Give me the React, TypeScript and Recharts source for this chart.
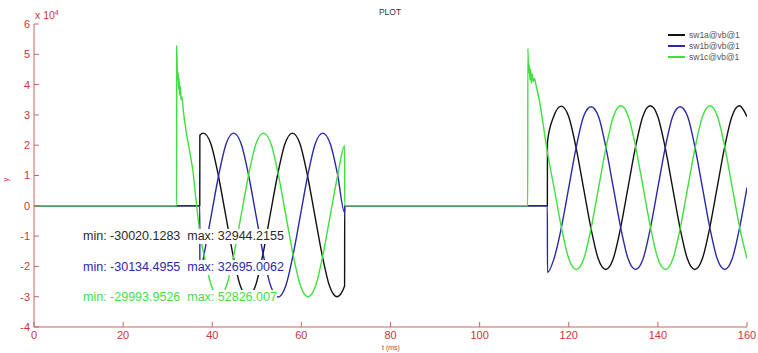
import React from "react";
import { LineChart, Line, XAxis, YAxis } from "recharts";

// [t (ms), value] pairs
const sw1a: [number, number][] = [
  [0, 0], [37.2, 0], [37.22, 23300], [38.0, 24000], [39.7, 20400], [41.3, 10500],
  [43.0, -3000], [44.7, -16500], [46.3, -26400], [48.0, -30000], [49.7, -26400],
  [51.3, -16500], [53.0, -3000], [54.7, 10500], [56.3, 20400], [58.0, 24000],
  [59.7, 20400], [61.3, 10500], [63.0, -3000], [64.7, -16500], [66.3, -26400],
  [68.0, -30000], [69.7, -26500], [69.72, 0], [115.2, 0], [115.22, 21200],
  [116.6, 29400], [118.3, 32900], [120.0, 29400], [121.6, 19500], [123.3, 6000],
  [125.0, -7500], [126.6, -17400], [128.3, -21000], [130.0, -17400], [131.6, -7500],
  [133.3, 6000], [135.0, 19500], [136.6, 29400], [138.3, 33000], [140.0, 29400],
  [141.6, 19500], [143.3, 6000], [145.0, -7500], [146.6, -17400], [148.3, -21000],
  [150.0, -17400], [151.6, -7500], [153.3, 6000], [155.0, 19500], [156.6, 29400],
  [158.3, 33000], [160.0, 29400],
];

const sw1b: [number, number][] = [
  [0, 0], [37.2, 0], [37.22, -22700], [38.1, -16500], [39.8, -3000], [41.5, 10500],
  [43.1, 20400], [44.8, 24000], [46.5, 20400], [48.1, 10500], [49.8, -3000],
  [51.5, -16500], [53.1, -26400], [54.8, -30100], [56.5, -26400], [58.1, -16500],
  [59.8, -3000], [61.5, 10500], [63.1, 20400], [64.8, 24000], [66.5, 20400],
  [68.1, 10500], [69.7, -2200], [69.72, 0], [115.2, 0], [115.22, -22000],
  [116.7, -17400], [118.3, -7500], [120.0, 6000], [121.7, 19500], [123.3, 29400],
  [125.0, 32700], [126.7, 29400], [128.3, 19500], [130.0, 6000], [131.7, -7500],
  [133.3, -17400], [135.0, -21000], [136.7, -17400], [138.3, -7500], [140.0, 6000],
  [141.7, 19500], [143.3, 29400], [145.0, 32700], [146.7, 29400], [148.3, 19500],
  [150.0, 6000], [151.7, -7500], [153.3, -17400], [155.0, -21000], [156.7, -17400],
  [158.3, -7500], [160.0, 6000],
];

const sw1c: [number, number][] = [
  [0, 0], [32.0, 0], [32.02, 52800], [32.15, 45000], [32.25, 41500], [32.35, 44000],
  [32.45, 38500], [32.55, 42000], [32.7, 36500], [32.85, 39500], [33.0, 35000],
  [33.2, 36000], [33.5, 31500], [34.2, 24000], [35.0, 17500], [35.7, 11000],
  [36.2, 4000], [36.7, -2500], [37.2, -8900], [38.2, -16500], [39.8, -26400],
  [41.5, -30000], [43.2, -26400], [44.8, -16500], [46.5, -3000], [48.2, 10500],
  [49.8, 20400], [51.5, 24000], [53.2, 20400], [54.8, 10500], [56.5, -3000],
  [58.2, -16500], [59.8, -26400], [61.5, -30000], [63.2, -26400], [64.8, -16500],
  [66.5, -3000], [68.2, 10500], [69.7, 19800], [69.72, 0], [110.8, 0],
  [110.82, 52000], [111.0, 44000], [111.15, 46500], [111.3, 41500], [111.45, 45000],
  [111.6, 40500], [111.8, 43500], [112.0, 41000], [112.3, 42000], [112.7, 39500],
  [113.5, 34000], [114.2, 27500], [115.0, 19500], [116.7, 6000], [118.4, -7500],
  [120.0, -17400], [121.7, -21000], [123.4, -17400], [125.0, -7500], [126.7, 6000],
  [128.4, 19500], [130.0, 29400], [131.7, 33000], [133.4, 29400], [135.0, 19500],
  [136.7, 6000], [138.4, -7500], [140.0, -17400], [141.7, -21000], [143.4, -17400],
  [145.0, -7500], [146.7, 6000], [148.4, 19500], [150.0, 29400], [151.7, 33000],
  [153.4, 29400], [155.0, 19500], [156.7, 6000], [158.4, -7500], [160.0, -17400],
];

const xTicks = [0, 20, 40, 60, 80, 100, 120, 140, 160];
const yTicks = [-40000, -30000, -20000, -10000, 0, 10000, 20000, 30000, 40000, 50000, 60000];

const seriesNames = ["sw1a@vb@1", "sw1b@vb@1", "sw1c@vb@1"];
const colors = ["#111111", "#2a2aa8", "#3ee03e"];
const textColors = ["#2a2a2a", "#2a2aa8", "#45e045"];
const stats = [
  "min: -30020.1283  max: 32944.2155",
  "min: -30134.4955  max: 32695.0062",
  "min: -29993.9526  max: 52826.007",
];

const toRows = (pts: [number, number][]) => pts.map(([t, v]) => ({ t, v }));

const axisRed = "#c86464";
const labelRed = "#cc3535";
const font = "'Liberation Sans', Arial, sans-serif";

export default function App() {
  const tickStyle = { fill: labelRed, fontSize: 11, fontFamily: font };
  return (
    <div style={{ position: "absolute", left: 0, top: 0, width: 758, height: 353, background: "#fff" }}>
      <LineChart width={758} height={353} margin={{ top: 24, right: 11, bottom: 0, left: 0 }}>
        <XAxis
          xAxisId="b"
          dataKey="t"
          type="number"
          domain={[0, 160]}
          ticks={xTicks}
          height={26}
          stroke={axisRed}
          tickSize={-5}
          tickMargin={9}
          tick={tickStyle}
          allowDataOverflow
        />
        <XAxis
          xAxisId="top"
          orientation="top"
          dataKey="t"
          type="number"
          domain={[0, 160]}
          ticks={xTicks}
          height={0}
          stroke={axisRed}
          tickSize={-5}
          tick={false}
          allowDataOverflow
        />
        <YAxis
          yAxisId="l"
          type="number"
          domain={[-40000, 60000]}
          ticks={yTicks}
          width={34}
          stroke={axisRed}
          tickSize={-5}
          tickMargin={9}
          tick={tickStyle}
          tickFormatter={(v: number) => String(v / 10000)}
          allowDataOverflow
        />
        <YAxis
          yAxisId="r"
          orientation="right"
          type="number"
          domain={[-40000, 60000]}
          ticks={yTicks}
          width={0}
          stroke={axisRed}
          tickSize={-5}
          tick={false}
          allowDataOverflow
        />
        {[sw1a, sw1b, sw1c].map((s, i) => (
          <Line
            key={seriesNames[i]}
            xAxisId="b"
            yAxisId="l"
            data={toRows(s)}
            dataKey="v"
            type="monotone"
            stroke={colors[i]}
            strokeWidth={1.4}
            dot={false}
            activeDot={false}
            isAnimationActive={false}
          />
        ))}
      </LineChart>

      <div style={{ position: "absolute", left: 0, width: 780, top: 7, textAlign: "center", fontFamily: font, fontSize: 8.5, color: "#333" }}>
        PLOT
      </div>
      <div style={{ position: "absolute", left: 35, top: 9, fontFamily: font, fontSize: 10.5, color: labelRed }}>
        x 10<sup style={{ fontSize: 7, verticalAlign: "4px" }}>4</sup>
      </div>
      <div style={{ position: "absolute", left: 0, width: 782, top: 344, textAlign: "center", fontFamily: font, fontSize: 7, lineHeight: "8px", color: labelRed }}>
        t (ms)
      </div>
      <div style={{ position: "absolute", left: 4, top: 175, fontFamily: font, fontSize: 7.5, lineHeight: "9px", color: labelRed, transform: "rotate(-90deg)" }}>
        y
      </div>

      {seriesNames.map((n, i) => (
        <div key={n} style={{ position: "absolute", left: 668, top: 30 + i * 11, display: "flex", alignItems: "center", fontFamily: font, fontSize: 8.5, color: "#555", lineHeight: "10px" }}>
          <span style={{ display: "inline-block", width: 17, height: 1.5, background: colors[i], marginRight: 4 }} />
          {n}
        </div>
      ))}

      {stats.map((s, i) => (
        <div key={s} style={{ position: "absolute", left: 83, top: 229 + i * 30.5, fontFamily: font, fontSize: 12.5, lineHeight: "15px", color: textColors[i], background: "#fff", whiteSpace: "pre" }}>
          {s}
        </div>
      ))}
    </div>
  );
}
